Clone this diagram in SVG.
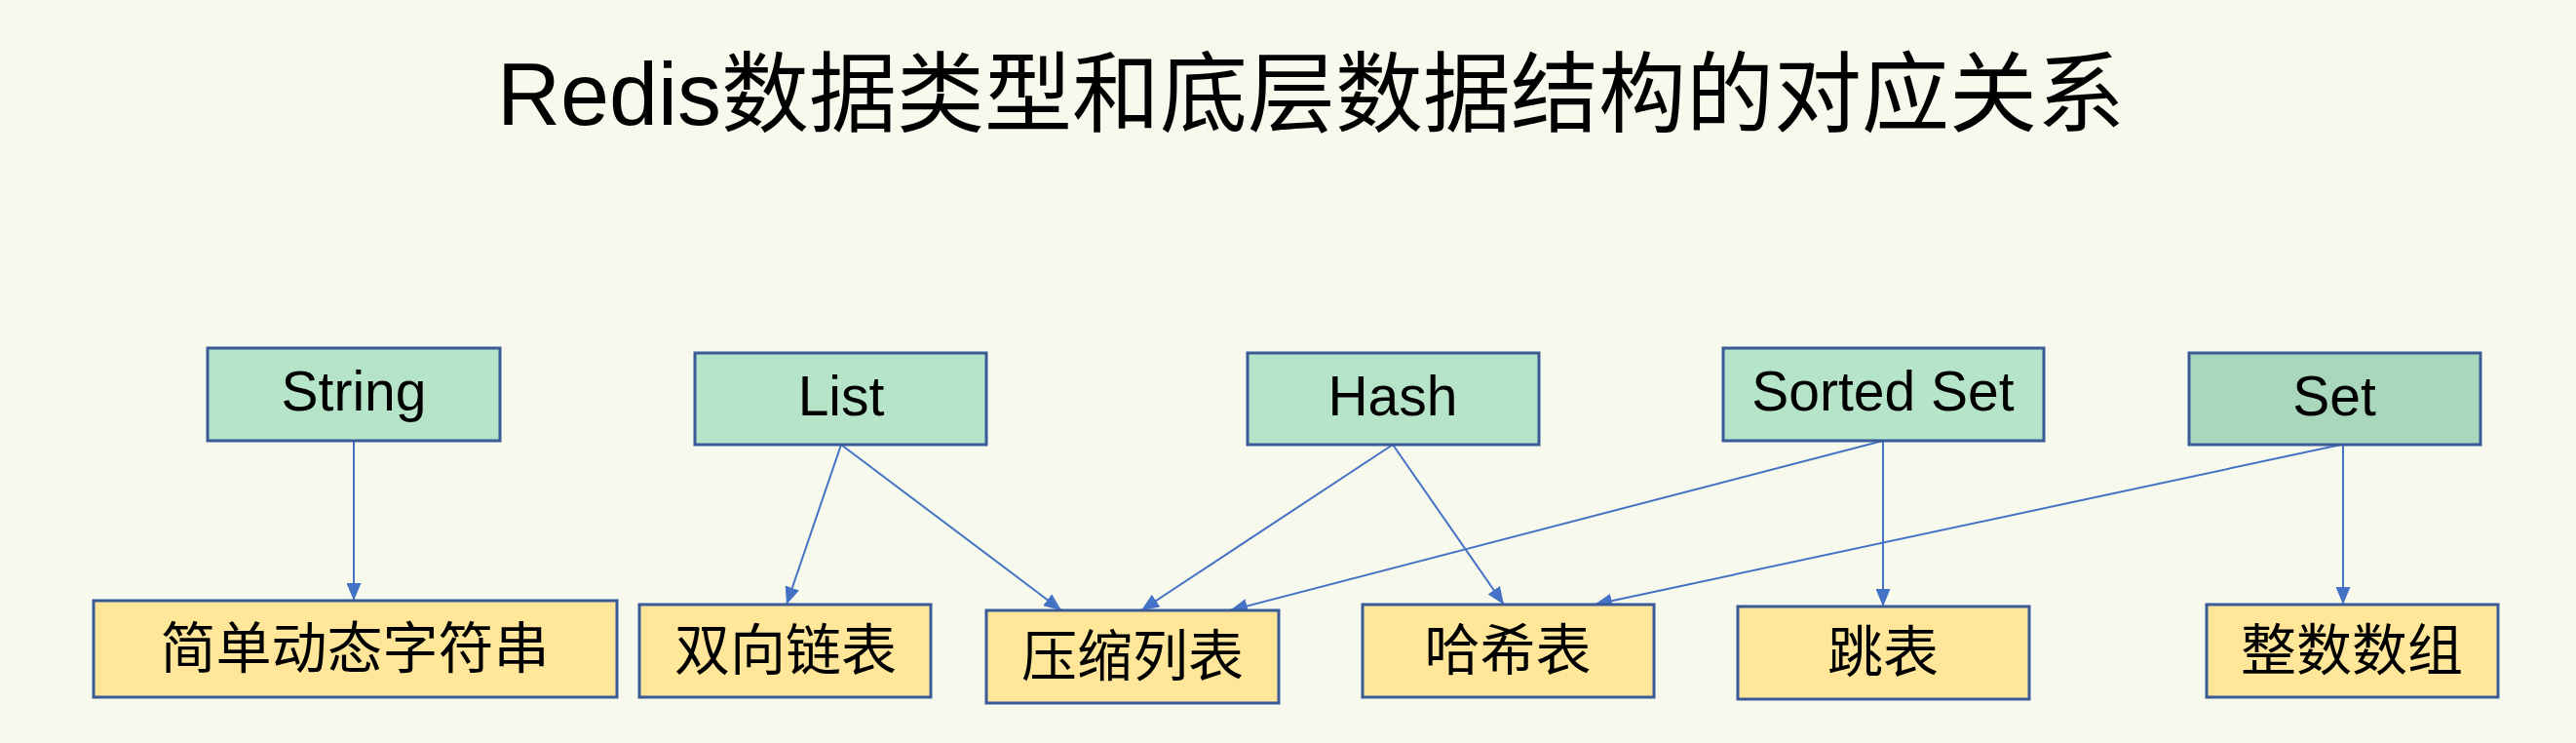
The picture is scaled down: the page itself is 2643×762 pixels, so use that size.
<svg xmlns="http://www.w3.org/2000/svg" width="2643" height="762" viewBox="0 0 2643 762">
<style>
.bg{fill:#f7f9ec}
.type rect{fill:#b6e4c9;stroke:#3a5a98;stroke-width:3}
.type.dark rect{fill:#a9d7bb}
.ds rect{fill:#ffe699;stroke:#3a5a98;stroke-width:3}
text{font-family:"Liberation Sans","Noto Sans CJK SC",sans-serif;fill:#000;text-anchor:middle}
.lbl{font-size:57px}
.cjk{font-size:57px;font-family:"Noto Sans CJK SC",sans-serif}
.title{font-size:90px}
#connectors line{stroke:#4472c4;stroke-width:2;fill:none;marker-end:url(#ah)}
</style>
<defs>
<marker id="ah" markerWidth="18" markerHeight="15" refX="18" refY="7.5" orient="auto" markerUnits="userSpaceOnUse">
<path d="M0,0 L18,7.5 L0,15 Z" fill="#4472c4"/>
</marker>
</defs>
<rect class="bg" x="0" y="0" width="2643" height="762"/>
<text class="title" x="1345" y="128">Redis<tspan font-family="Noto Sans CJK SC, sans-serif">数据类型和底层数据结构的对应关系</tspan></text>

<g id="connectors">
<line x1="363" y1="452" x2="363" y2="616"/>
<line x1="863" y1="456" x2="807" y2="620"/>
<line x1="863" y1="456" x2="1089" y2="626"/>
<line x1="1429" y1="456" x2="1171" y2="626"/>
<line x1="1429" y1="456" x2="1543" y2="620"/>
<line x1="1932" y1="452" x2="1262" y2="626"/>
<line x1="1932" y1="452" x2="1932" y2="622"/>
<line x1="2402" y1="456" x2="1636" y2="620"/>
<line x1="2404" y1="456" x2="2404" y2="620"/>
</g>

<g id="string" class="type"><rect x="213" y="357" width="300" height="95"/><text class="lbl" x="363" y="421">String</text></g>
<g id="list" class="type"><rect x="713" y="362" width="299" height="94"/><text class="lbl" x="863" y="426">List</text></g>
<g id="hash" class="type"><rect x="1280" y="362" width="299" height="94"/><text class="lbl" x="1429" y="426">Hash</text></g>
<g id="sortedset" class="type"><rect x="1768" y="357" width="329" height="95"/><text class="lbl" x="1932" y="421">Sorted Set</text></g>
<g id="set" class="type dark"><rect x="2246" y="362" width="299" height="94"/><text class="lbl" x="2395" y="426">Set</text></g>

<g id="sds" class="ds"><rect x="96" y="616" width="537" height="99"/><text class="cjk" x="364" y="685">简单动态字符串</text></g>
<g id="linkedlist" class="ds"><rect x="656" y="620" width="299" height="95"/><text class="cjk" x="806" y="687">双向链表</text></g>
<g id="ziplist" class="ds"><rect x="1012" y="626" width="300" height="95"/><text class="cjk" x="1162" y="693">压缩列表</text></g>
<g id="hashtable" class="ds"><rect x="1398" y="620" width="299" height="95"/><text class="cjk" x="1547" y="687">哈希表</text></g>
<g id="skiplist" class="ds"><rect x="1783" y="622" width="299" height="95"/><text class="cjk" x="1932" y="689">跳表</text></g>
<g id="intset" class="ds"><rect x="2264" y="620" width="299" height="95"/><text class="cjk" x="2413" y="687">整数数组</text></g>
</svg>
